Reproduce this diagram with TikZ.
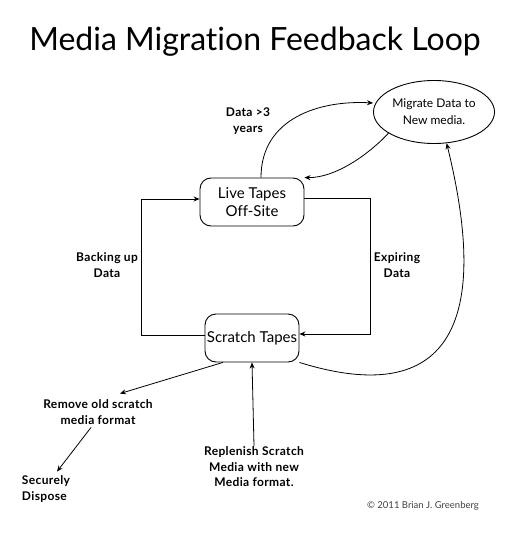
\documentclass[tikz,border=0pt]{standalone}
\usepackage{fontspec}
\setmainfont[Ligatures={NoCommon}]{Lato}
\newfontfamily\lblfont[LetterSpace=3,Ligatures={NoCommon}]{Lato}
\usetikzlibrary{arrows.meta,shapes.geometric,calc}
\begin{document}
\begin{tikzpicture}[x=1pt,y=-1pt,
  >={Stealth[length=6pt,width=5pt]},
  conn/.style={draw,line width=0.8pt,->},
  tapebox/.style={draw,line width=0.9pt,rounded corners=11pt,font=\fontsize{15}{18}\selectfont,align=center,inner sep=0pt},
  lbl/.style={font=\lblfont\bfseries\fontsize{12}{15.5}\selectfont,align=center,inner sep=1pt},
  ]
\useasboundingbox (0,0) rectangle (519,543);
\node[font=\fontsize{32}{36}\selectfont] (title) at (255,42) {Media Migration Feedback Loop};
\node[tapebox,minimum width=104pt,minimum height=48pt] (live) at (252,202) {Live Tapes\\Off-Site};
\node[tapebox,minimum width=94pt,minimum height=48pt] (scratch) at (252,338) {Scratch Tapes};
\node[draw,line width=0.9pt,ellipse,minimum width=121pt,minimum height=63pt,inner sep=0pt,align=center,font=\fontsize{12}{17}\selectfont] (mig) at (434,112) {Migrate Data to\\New media.};

\node[lbl] (data3) at (248,121) {Data >3\\years};
\node[lbl] (backing) at (107,265) {Backing up\\Data};
\node[lbl] (expiring) at (397,265) {Expiring\\Data};
\node[lbl] (remove) at (98,412) {Remove old scratch\\media format};
\node[lbl,align=left] (dispose) at (46,489) {Securely\\Dispose};
\node[lbl] (replenish) at (254,467) {Replenish Scratch\\Media with new\\Media format.};
\node[font=\fontsize{9.5}{11}\selectfont,text=black!75] (copy) at (423,506) {© 2011 Brian J. Greenberg};

\draw[conn] (scratch.west |- 0,335) -| (141,199) -- (live.west |- 0,199);
\draw[conn] (live.east |- 0,198) -| (370,334) -- (scratch.east |- 0,334);
\draw[conn] (live.north -| 261,0) .. controls (261,118) and (320,100) .. (mig.west |- 0,103);
\draw[conn] (mig.-155) .. controls (368,155) and (335,178) .. (live.north east);
\draw[conn] (scratch.south east) .. controls (420,400) and (500,360) .. (mig.-68);
\draw[conn] (scratch.-140) -- ($(remove.north)+(22,-5)$);
\draw[conn] ($(remove.south)+(-7,2)$) -- ($(dispose.north)+(11,-3)$);
\draw[conn] (replenish.north) -- (scratch.south);
\end{tikzpicture}
\end{document}
